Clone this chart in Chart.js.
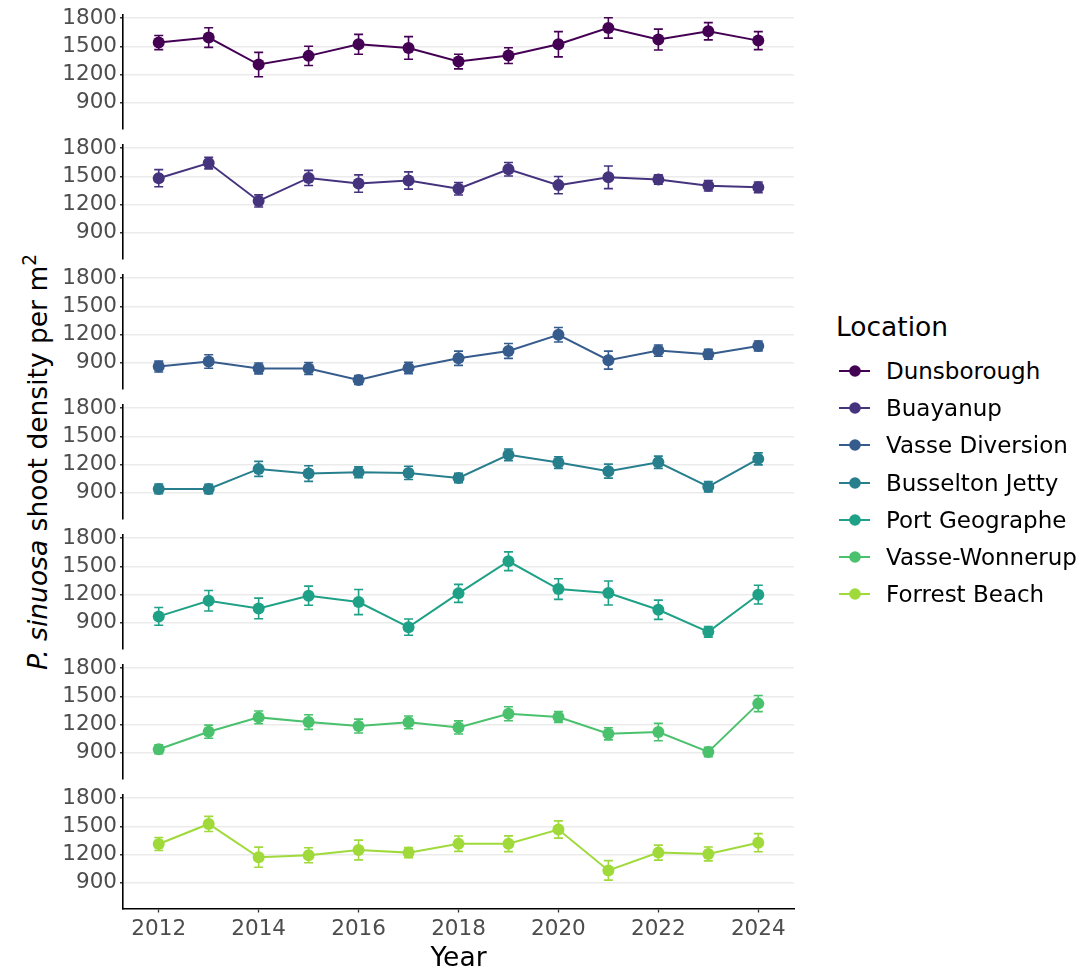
<!DOCTYPE html>
<html>
<head>
<meta charset="utf-8">
<script src="https://cdn.jsdelivr.net/npm/chart.js@4.4.0/dist/chart.umd.min.js"></script>
<style>
  html, body { margin: 0; padding: 0; background: #fff; }
  #fig { position: relative; width: 1090px; height: 974px; overflow: hidden;
         font-family: "DejaVu Sans", sans-serif; background: #fff; }
  #fig canvas { position: absolute; left: 0; }
  #ytitle { position: absolute; left: 38px; top: 462px; white-space: nowrap;
            font-size: 26.5px; line-height: 32px; color: #000;
            transform: translate(-50%, -50%) rotate(-90deg); }
  #ytitle sup { font-size: 0.7em; line-height: 0; vertical-align: 0.62em; }
  #legendTitle { position: absolute; left: 836px; top: 311px; font-size: 26.5px;
                 line-height: 32px; color: #000; white-space: nowrap; }
  .item { position: absolute; left: 838px; height: 32px; display: flex; align-items: center;
          white-space: nowrap; font-size: 23px; color: #000; }
  .item svg { width: 34px; height: 32px; margin-right: 14px; }
</style>
</head>
<body>
<div id="fig">
  <div id="ytitle"><i>P. sinuosa</i> shoot density per m<sup>2</sup></div>
  <div id="legendTitle">Location</div>
</div>
<script>
// Survey years and tick values
const years = [2012, 2013, 2014, 2015, 2016, 2017, 2018, 2019, 2020, 2021, 2022, 2023, 2024];
const yearTicks = [2012, 2014, 2016, 2018, 2020, 2022, 2024];
const densityTicks = [900, 1200, 1500, 1800];

const locations = ['Dunsborough', 'Buayanup', 'Vasse Diversion', 'Busselton Jetty',
                   'Port Geographe', 'Vasse-Wonnerup', 'Forrest Beach'];
const colours = ['#440154', '#46337E', '#365C8D', '#277F8E', '#1FA187', '#4AC16D', '#9FDA3A'];

// Mean shoot density (shoots per m²) and standard error, per location
const dunsborough      = [1540, 1594, 1305, 1398, 1522, 1483, 1337, 1401, 1522, 1697, 1572, 1661, 1561];
const dunsboroughSE    = [75, 105, 130, 103, 106, 121, 78, 84, 135, 109, 112, 92, 96];
const buayanup         = [1480, 1642, 1237, 1483, 1423, 1455, 1367, 1575, 1406, 1490, 1466, 1399, 1382];
const buayanupSE       = [92, 62, 65, 81, 93, 92, 67, 72, 92, 121, 50, 56, 58];
const vasseDiversion   = [857, 910, 836, 836, 713, 842, 945, 1023, 1196, 925, 1027, 988, 1077];
const vasseDiversionSE = [58, 72, 58, 63, 48, 61, 76, 79, 77, 96, 60, 53, 53];
const busseltonJetty   = [938, 938, 1152, 1102, 1116, 1109, 1055, 1302, 1220, 1128, 1223, 962, 1259];
const busseltonJettySE = [52, 50, 80, 83, 58, 71, 51, 62, 62, 75, 65, 55, 64];
const portGeographe    = [965, 1132, 1050, 1186, 1118, 850, 1211, 1554, 1257, 1215, 1036, 800, 1197];
const portGeographeSE  = [95, 110, 110, 102, 134, 87, 96, 100, 110, 128, 103, 57, 100];
const vasseWonnerup    = [935, 1122, 1275, 1225, 1182, 1222, 1168, 1314, 1279, 1100, 1118, 906, 1422];
const vasseWonnerupSE  = [48, 70, 68, 78, 74, 68, 70, 75, 59, 65, 93, 50, 86];
const forrestBeach     = [1311, 1525, 1170, 1191, 1247, 1219, 1314, 1314, 1466, 1029, 1219, 1205, 1325];
const forrestBeachSE   = [69, 81, 108, 80, 106, 53, 82, 84, 92, 104, 80, 74, 97];

const seriesMeans = [dunsborough, buayanup, vasseDiversion, busseltonJetty, portGeographe, vasseWonnerup, forrestBeach];
const seriesSE    = [dunsboroughSE, buayanupSE, vasseDiversionSE, busseltonJettySE, portGeographeSE, vasseWonnerupSE, forrestBeachSE];

// Shared scale limits (same y range in every panel)
const X_MIN = 2011.285, X_MAX = 2024.715;
const Y_MIN = 622, Y_MAX = 1840;

const tickGrey = '#4d4d4d';
const FONT = '"DejaVu Sans", sans-serif';

// Vertical error bars, drawn beneath the line and points
const errorBars = {
  id: 'errorBars',
  beforeDatasetsDraw(chart, args, opts) {
    const { ctx, scales: { x, y } } = chart;
    const half = opts.capHalfWidth;
    ctx.save();
    ctx.strokeStyle = opts.colour;
    ctx.lineWidth = opts.lineWidth;
    chart.data.datasets[0].data.forEach((p, i) => {
      const e = opts.errors[i];
      const px = x.getPixelForValue(p.x);
      const top = y.getPixelForValue(p.y + e);
      const bot = y.getPixelForValue(p.y - e);
      ctx.beginPath();
      ctx.moveTo(px, top); ctx.lineTo(px, bot);
      ctx.moveTo(px - half, top); ctx.lineTo(px + half, top);
      ctx.moveTo(px - half, bot); ctx.lineTo(px + half, bot);
      ctx.stroke();
    });
    ctx.restore();
  }
};

const fig = document.getElementById('fig');
const PANEL_STEP = 130, PANEL_H = 114;

locations.forEach((name, k) => {
  const last = k === locations.length - 1;
  const canvas = document.createElement('canvas');
  const top = 2 + PANEL_STEP * k;
  const height = last ? 974 - top : 138;
  canvas.width = 800;
  canvas.height = height;
  canvas.style.top = top + 'px';
  canvas.style.width = '800px';
  canvas.style.height = height + 'px';
  fig.appendChild(canvas);

  const points = years.map((yr, i) => ({ x: yr, y: seriesMeans[k][i] }));

  new Chart(canvas, {
    type: 'line',
    data: {
      datasets: [{
        label: name,
        data: points,
        borderColor: colours[k],
        backgroundColor: colours[k],
        borderWidth: 2,
        pointRadius: 6,
        pointHoverRadius: 6,
        pointBorderWidth: 0,
        pointBackgroundColor: colours[k],
        tension: 0,
        clip: false
      }]
    },
    options: {
      responsive: false,
      animation: false,
      devicePixelRatio: 1,
      events: [],
      layout: { padding: { top: 12.5, bottom: last ? 0 : 11.5, left: 0, right: 1 } },
      plugins: {
        legend: { display: false },
        tooltip: { enabled: false },
        errorBars: { errors: seriesSE[k], colour: colours[k], lineWidth: 1.6, capHalfWidth: 4.5 }
      },
      scales: {
        x: {
          type: 'linear',
          min: X_MIN, max: X_MAX,
          display: last,
          afterBuildTicks: (s) => { s.ticks = yearTicks.map(v => ({ value: v })); },
          afterFit: (s) => {
            if (last) s.height = height - 12.5 - PANEL_H;
            s.paddingLeft = 0; s.paddingRight = 0;
          },
          grid: { drawOnChartArea: false, drawTicks: true, tickLength: 4, tickColor: '#333', tickWidth: 1.3 },
          border: { display: true, color: '#000', width: 1.6 },
          ticks: {
            color: tickGrey, padding: 6, maxRotation: 0, autoSkip: false,
            font: { family: FONT, size: 21.5, lineHeight: 1 },
            callback: (v) => String(v)
          },
          title: {
            display: true, text: 'Year', color: '#000',
            font: { family: FONT, size: 26.5, lineHeight: 1 },
            padding: { top: 0, bottom: 2 }
          }
        },
        y: {
          type: 'linear',
          min: Y_MIN, max: Y_MAX,
          afterBuildTicks: (s) => { s.ticks = densityTicks.map(v => ({ value: v })); },
          afterFit: (s) => {
            s.width = 123;
            s.paddingTop = 0; s.paddingBottom = 0;
          },
          grid: { color: '#ebebeb', lineWidth: 1.5, drawTicks: true, tickLength: 3, tickColor: '#333', tickWidth: 1.3 },
          border: { display: true, color: '#000', width: 1.6 },
          ticks: {
            color: tickGrey, padding: 3, autoSkip: false,
            font: { family: FONT, size: 21.5, lineHeight: 1 },
            callback: (v) => String(v)
          }
        }
      }
    },
    plugins: [errorBars]
  });
});

// Legend: one entry per location, line with point symbol
locations.forEach((name, k) => {
  const row = document.createElement('div');
  row.className = 'item';
  row.style.top = (371 + 37.2 * k - 16) + 'px';
  row.innerHTML =
    '<svg viewBox="0 0 34 32"><line x1="1" y1="16" x2="32" y2="16" stroke="' + colours[k] +
    '" stroke-width="2"/><circle cx="17" cy="16" r="5.8" fill="' + colours[k] + '"/></svg>' +
    '<span>' + name + '</span>';
  fig.appendChild(row);
});
</script>
</body>
</html>
